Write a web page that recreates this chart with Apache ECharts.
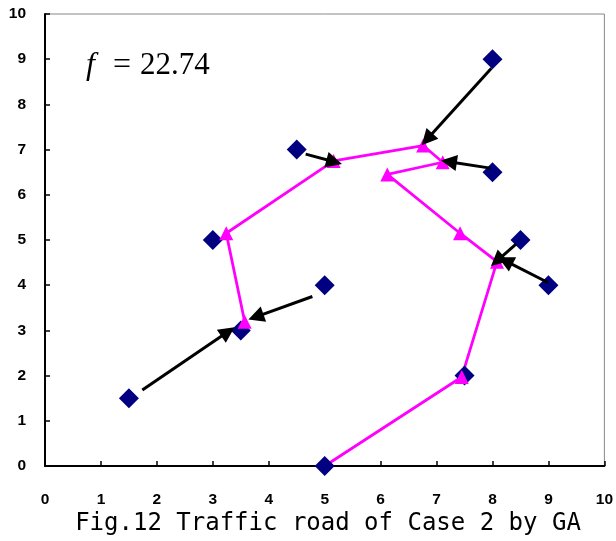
<!DOCTYPE html>
<html>
<head>
<meta charset="utf-8">
<script src="https://cdn.jsdelivr.net/npm/echarts@6/dist/echarts.min.js"></script>
<style>html,body{margin:0;padding:0;background:#fff;}#c{width:616px;height:541px;}</style>
</head>
<body>
<div id="c"></div>
<script>
// Customer / depot points (blue diamonds)
const pointsX = [8, 4.5, 8, 3, 8.5, 9, 5, 3.5, 1.5, 7.5, 5];
const pointsY = [9, 7, 6.5, 5, 5, 4, 4, 3, 1.5, 2, 0];

// GA route (magenta), in travel order
const routeX = [5, 7.45, 8.08, 7.42, 6.12, 7.11, 6.76, 5.16, 3.24, 3.57];
const routeY = [0, 1.97, 4.52, 5.15, 6.45, 6.72, 7.09, 6.75, 5.15, 3.19];

// Black arrows: start -> end
const arrowFromX = [7.98, 4.66, 7.96, 8.42, 8.99, 4.78, 1.74];
const arrowFromY = [8.8, 6.9, 6.59, 4.91, 4.06, 3.75, 1.68];
const arrowToX = [6.83, 5.17, 7.22, 8.08, 8.23, 3.77, 3.27];
const arrowToY = [7.23, 6.73, 6.73, 4.54, 4.54, 3.3, 2.97];

const ticks = [0,1,2,3,4,5,6,7,8,9,10];
const fValue = '22.74';
const caption = 'Fig.12 Traffic road of Case 2 by GA';

const pts = pointsX.map((x, i) => [x, pointsY[i]]);
const route = routeX.map((x, i) => [x, routeY[i]]);
const arrows = arrowFromX.map((x, i) => ({coords: [[x, arrowFromY[i]], [arrowToX[i], arrowToY[i]]]}));

const axisCommon = {
  type: 'value', min: ticks[0], max: ticks[ticks.length - 1], interval: 1,
  axisLine: {show: true, onZero: false, lineStyle: {color: '#000', width: 2}},
  axisTick: {show: true, inside: true, length: 5, lineStyle: {color: '#000', width: 1.5}},
  splitLine: {show: false},
  axisLabel: {color: '#000', fontFamily: 'Liberation Sans', fontWeight: 'bold', fontSize: 15.5}
};

const chart = echarts.init(document.getElementById('c'), null, {renderer: 'canvas'});
chart.setOption({
  animation: false,
  backgroundColor: '#fff',
  grid: {left: 45, right: 10, top: 14, bottom: 75, show: true, borderColor: '#888', borderWidth: 1, backgroundColor: 'transparent'},
  xAxis: Object.assign({}, axisCommon, {axisLabel: Object.assign({}, axisCommon.axisLabel, {margin: 26})}),
  yAxis: Object.assign({}, axisCommon, {axisLabel: Object.assign({}, axisCommon.axisLabel, {margin: 19, verticalAlign: 'middle', padding: [8, 0, 0, 0]})}),
  graphic: [
    {type: 'text', left: 86, top: 50, style: {
      rich: {
        f: {fontFamily: 'Liberation Serif', fontStyle: 'italic', fontSize: 32, fill: '#000', width: 27},
        e: {fontFamily: 'Liberation Serif', fontSize: 32, fill: '#000', width: 27},
        n: {fontFamily: 'Liberation Serif', fontSize: 31, fill: '#000'}
      },
      text: '{f|f}{e|=}{n|' + fValue + '}'
    }},
    {type: 'text', x: 328, y: 524, style: {
      text: caption, fontFamily: 'DejaVu Sans Mono', fontSize: 24, fill: '#000',
      align: 'center', verticalAlign: 'middle'
    }}
  ],
  series: [
    {type: 'line', data: route, showSymbol: false, symbol: 'none', z: 2,
     lineStyle: {color: '#FF00FF', width: 2.8}, itemStyle: {color: '#FF00FF'}},
    {type: 'scatter', data: pts, symbol: 'diamond', symbolSize: 20, z: 3,
     itemStyle: {color: '#000080', opacity: 1}},
    {type: 'scatter', data: route.slice(1), symbol: 'triangle', symbolSize: 14, z: 4,
     itemStyle: {color: '#FF00FF', opacity: 1}},
    {type: 'lines', coordinateSystem: 'cartesian2d', data: arrows, z: 5,
     symbol: ['none', 'triangle'], symbolSize: 16,
     lineStyle: {color: '#000', width: 3, opacity: 1, curveness: 0},
     itemStyle: {color: '#000'}}
  ]
});
</script>
</body>
</html>
